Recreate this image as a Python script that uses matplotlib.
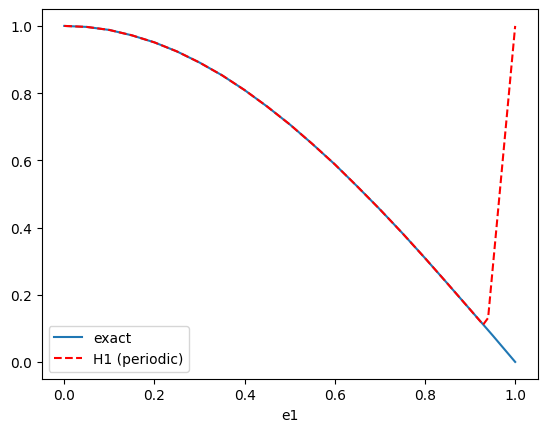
import matplotlib
matplotlib.use("Agg")
import matplotlib.pyplot as plt

# exact solution
x_exact = [0.00, 0.05, 0.10, 0.15, 0.20, 0.25, 0.30, 0.35, 0.40, 0.45, 0.50,
           0.55, 0.60, 0.65, 0.70, 0.75, 0.80, 0.85, 0.90, 0.95, 1.00]
y_exact = [1.000, 0.997, 0.988, 0.972, 0.951, 0.924, 0.891, 0.853, 0.809, 0.760, 0.707,
           0.649, 0.588, 0.522, 0.454, 0.383, 0.309, 0.233, 0.156, 0.079, 0.000]

# H1 (periodic) approximation
x_h1 = [0.00, 0.05, 0.10, 0.15, 0.20, 0.25, 0.30, 0.35, 0.40, 0.45, 0.50,
        0.55, 0.60, 0.65, 0.70, 0.75, 0.80, 0.85, 0.90, 0.929, 0.940, 1.00]
y_h1 = [1.000, 0.997, 0.988, 0.972, 0.951, 0.924, 0.891, 0.853, 0.809, 0.760, 0.707,
        0.649, 0.588, 0.522, 0.454, 0.383, 0.309, 0.233, 0.156, 0.111, 0.131, 1.000]

fig, ax = plt.subplots(figsize=(6.4, 4.8), dpi=100)
ax.plot(x_exact, y_exact, label="exact")
ax.plot(x_h1, y_h1, "r--", label="H1 (periodic)")
ax.set_xlabel("e1")
ax.legend(loc="lower left")
fig.savefig("out.png", bbox_inches="tight")
